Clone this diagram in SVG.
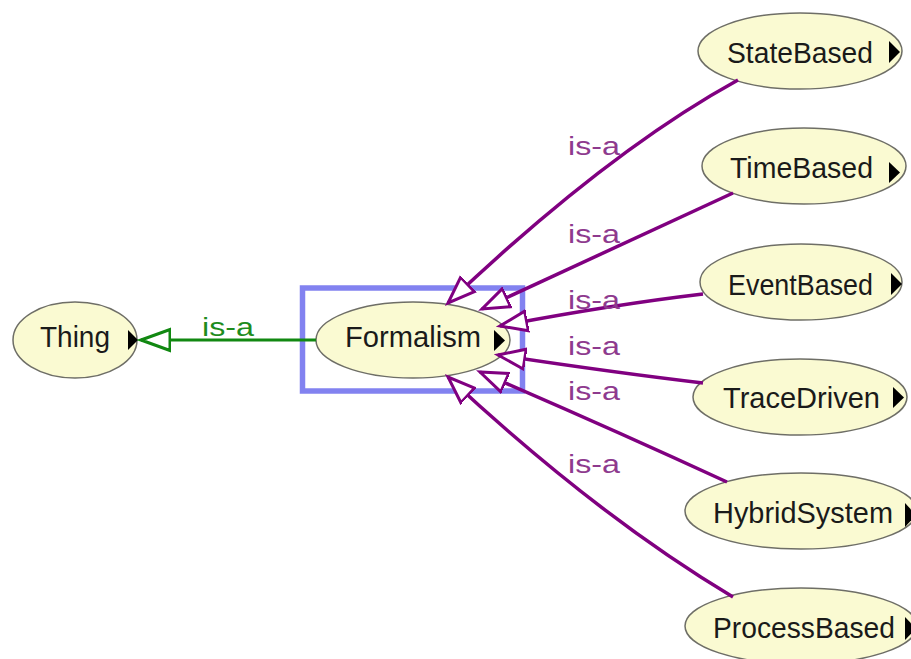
<svg xmlns="http://www.w3.org/2000/svg" width="911" height="659" viewBox="0 0 911 659">
<style>
.node ellipse{fill:#fafad2;stroke:#6e6e66;stroke-width:1.5}
.node text{font-family:"Liberation Sans",Arial,sans-serif;font-size:30px;fill:#1a1a1a}
.node polygon{fill:#000}
.edge{fill:none;stroke:#800080;stroke-width:3.5}
.edge.g{stroke:#118811;stroke-width:3}
.lbl{font-family:"Liberation Sans",Arial,sans-serif;font-size:25px;fill:#8e3a8e}
.lbl.g{fill:#1e8c1e}
</style>
<defs>
<marker id="ap" markerUnits="userSpaceOnUse" markerWidth="32" markerHeight="26" refX="28" refY="12" orient="auto" viewBox="0 0 32 24">
<path d="M1,2 L28,12 L1,22 Z" fill="#fff" stroke="#800080" stroke-width="3" stroke-linejoin="miter"/>
</marker>
<marker id="ag" markerUnits="userSpaceOnUse" markerWidth="34" markerHeight="26" refX="30" refY="12" orient="auto" viewBox="0 0 34 24">
<path d="M1,1.5 L30,12 L1,22.5 Z" fill="#fff" stroke="#118811" stroke-width="3"/>
</marker>
</defs>
<rect width="911" height="659" fill="#fff"/>
<rect id="selection" x="302.5" y="288" width="220" height="103" fill="none" stroke="#8282f0" stroke-width="5.5"/>
<g id="node-thing" class="node">
<ellipse cx="75" cy="340" rx="62" ry="38"/>
<text x="40" y="347" textLength="70" lengthAdjust="spacingAndGlyphs">Thing</text>
<polygon points="128,330 138,340 128,350"/>
</g>
<g id="node-formalism" class="node">
<ellipse cx="413" cy="340" rx="97" ry="38"/>
<text x="345" y="347" textLength="136" lengthAdjust="spacingAndGlyphs">Formalism</text>
<polygon points="494,330 505,340.5 494,351"/>
</g>
<g id="node-statebased" class="node">
<ellipse cx="800" cy="51" rx="102" ry="38"/>
<text x="727" y="63" textLength="146" lengthAdjust="spacingAndGlyphs">StateBased</text>
<polygon points="889,41 900,52 889,63"/>
</g>
<g id="node-timebased" class="node">
<ellipse cx="804" cy="166" rx="102" ry="38"/>
<text x="730" y="178" textLength="143" lengthAdjust="spacingAndGlyphs">TimeBased</text>
<polygon points="889,162 900,172.5 889,183"/>
</g>
<g id="node-eventbased" class="node">
<ellipse cx="801" cy="282" rx="101" ry="38"/>
<text x="728" y="295" textLength="145" lengthAdjust="spacingAndGlyphs">EventBased</text>
<polygon points="891,273 902,284 891,295"/>
</g>
<g id="node-tracedriven" class="node">
<ellipse cx="800" cy="397" rx="107" ry="38"/>
<text x="723" y="408" textLength="157" lengthAdjust="spacingAndGlyphs">TraceDriven</text>
<polygon points="893,387 904,397.5 893,408"/>
</g>
<g id="node-hybridsystem" class="node">
<ellipse cx="801" cy="511" rx="116" ry="38"/>
<text x="713" y="523" textLength="180" lengthAdjust="spacingAndGlyphs">HybridSystem</text>
<polygon points="905,503 916,515 905,527"/>
</g>
<g id="node-processbased" class="node">
<ellipse cx="801" cy="626" rx="116" ry="38"/>
<text x="713" y="638" textLength="182" lengthAdjust="spacingAndGlyphs">ProcessBased</text>
<polygon points="905,617 916,628.5 905,640"/>
</g>
<g id="connectors">
<path class="edge g" d="M316,340 L141,340" marker-end="url(#ag)"/>
<text class="lbl g" x="202" y="336" textLength="52" lengthAdjust="spacingAndGlyphs">is-a</text>
<path class="edge" d="M738,80 Q607,152 448,303" marker-end="url(#ap)"/>
<text class="lbl" x="568" y="155" textLength="52" lengthAdjust="spacingAndGlyphs">is-a</text>
<path class="edge" d="M733,193 Q610,250 482,309" marker-end="url(#ap)"/>
<text class="lbl" x="568" y="243" textLength="52" lengthAdjust="spacingAndGlyphs">is-a</text>
<path class="edge" d="M703,294 Q610,305 500,326" marker-end="url(#ap)"/>
<text class="lbl" x="568" y="309" textLength="52" lengthAdjust="spacingAndGlyphs">is-a</text>
<path class="edge" d="M703,383 Q610,372 498,355" marker-end="url(#ap)"/>
<text class="lbl" x="568" y="355" textLength="52" lengthAdjust="spacingAndGlyphs">is-a</text>
<path class="edge" d="M727,482 Q610,428 480,372" marker-end="url(#ap)"/>
<text class="lbl" x="568" y="400" textLength="52" lengthAdjust="spacingAndGlyphs">is-a</text>
<path class="edge" d="M733,597 Q596,515 448,377" marker-end="url(#ap)"/>
<text class="lbl" x="568" y="473" textLength="52" lengthAdjust="spacingAndGlyphs">is-a</text>
</g>
</svg>
